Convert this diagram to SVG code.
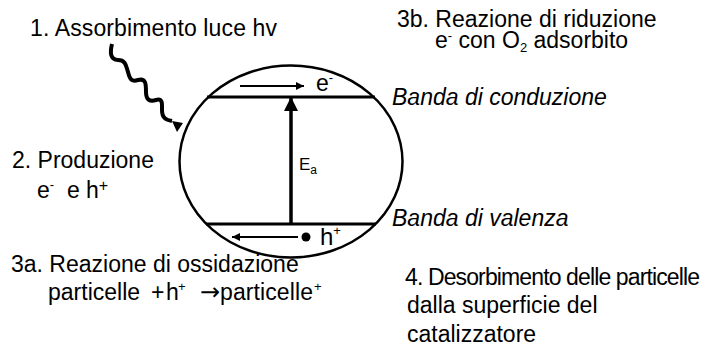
<svg xmlns="http://www.w3.org/2000/svg" width="703" height="359" viewBox="0 0 703 359">
<style>
text{font-family:"Liberation Sans",Arial,sans-serif;fill:#000;font-size:23px}
.it{font-style:italic}
.sm{font-size:13px}
.ln{stroke:#000;fill:none}
</style>
<defs>
<marker id="ah" viewBox="0 0 10 10" refX="10" refY="5" markerWidth="5" markerHeight="4" markerUnits="strokeWidth" orient="auto"><path d="M0,0L10,5L0,10z" fill="#000"/></marker>
<marker id="ahb" viewBox="0 0 10 10" refX="10" refY="5" markerWidth="4" markerHeight="4.5" markerUnits="strokeWidth" orient="auto"><path d="M0,0L10,5L0,10z" fill="#000"/></marker>
</defs>
<rect width="703" height="359" fill="#fff"/>
<g id="particle">
<ellipse cx="291" cy="161.5" rx="111.5" ry="96" class="ln" stroke-width="2.5"/>
<line x1="207" y1="97" x2="375" y2="97" class="ln" stroke-width="3"/>
<line x1="206" y1="224" x2="376" y2="224" class="ln" stroke-width="3"/>
</g>
<g id="connectors">
<path d="M112,44 C110,52 110,60 118,60 C126,60 126,66 128,72 C130,80 132,82 138,80 C146,78 146,84 146,92 C146,100 150,102 156,100 C163,98 162,104 162,110 C162,118 166,120 172,121" class="ln" stroke-width="4"/>
<path d="M172,121 L183,123 L177,132 Z" fill="#000"/>
<line x1="291" y1="224" x2="291" y2="97" class="ln" stroke-width="3.5" marker-end="url(#ahb)"/>
<line x1="240" y1="86" x2="304" y2="86" class="ln" stroke-width="2" marker-end="url(#ah)"/>
<line x1="298" y1="237" x2="232" y2="237" class="ln" stroke-width="2" marker-end="url(#ah)"/>
<circle cx="306" cy="237" r="4.5" fill="#000"/>
</g>
<g id="labels-particle">
<text x="316" y="91">e<tspan class="sm" dy="-9">-</tspan></text>
<text x="320" y="245" style="font-size:24px">h<tspan class="sm" dy="-10">+</tspan></text>
<text x="299" y="170" style="font-size:17px">E<tspan style="font-size:12px" dy="4">a</tspan></text>
</g>
<g id="step1"><text x="30" y="36" textLength="247">1. Assorbimento luce hv</text></g>
<g id="step3b">
<text x="397" y="27">3b. Reazione di riduzione</text>
<text x="435" y="48">e<tspan class="sm" dy="-8">-</tspan><tspan dy="8"> con O</tspan><tspan class="sm" dy="4">2</tspan><tspan dy="-4"> adsorbito</tspan></text>
</g>
<g id="band-cond"><text class="it" x="392" y="105">Banda di conduzione</text></g>
<g id="band-val"><text class="it" x="392" y="226">Banda di valenza</text></g>
<g id="step2">
<text x="12" y="168">2. Produzione</text>
<text x="37" y="198">e<tspan class="sm" dy="-9">-</tspan><tspan x="67" dy="9">e</tspan><tspan x="86">h</tspan><tspan class="sm" dy="-7" style="font-size:16px">+</tspan></text>
</g>
<g id="step3a">
<text x="11" y="272">3a. Reazione di ossidazione</text>
<text x="48" y="300">particelle<tspan x="151">+</tspan><tspan x="166">h</tspan><tspan class="sm" x="178" dy="-9">+</tspan><tspan x="200" dy="9" style="font-family:'DejaVu Sans',sans-serif;font-size:24px">→</tspan><tspan x="220" textLength="93">particelle</tspan><tspan class="sm" x="314" dy="-9">+</tspan></text>
</g>
<g id="step4">
<text x="405" y="285" textLength="295" lengthAdjust="spacing">4. Desorbimento delle particelle</text>
<text x="407" y="313">dalla superficie del</text>
<text x="407" y="342">catalizzatore</text>
</g>
</svg>
